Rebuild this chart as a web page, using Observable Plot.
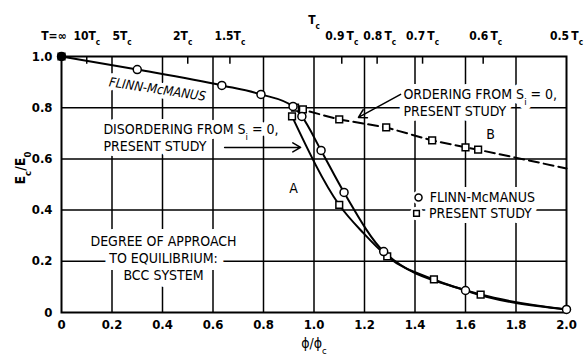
<!DOCTYPE html>
<html><head><meta charset="utf-8">
<script src="https://cdn.jsdelivr.net/npm/d3@7"></script>
<script src="https://cdn.jsdelivr.net/npm/@observablehq/plot@0.6"></script>
<style>
body{margin:0;background:#fff;}
svg{font-family:"DejaVu Sans Condensed",sans-serif;}
</style></head>
<body><div id="chart"></div>
<script>
// Flinn-McManus data (circles) and curve
const fmX = [0, 0.30, 0.635, 0.79, 0.917, 0.952, 1.028, 1.119, 1.276, 1.60, 2.0];
const fmY = [1.0, 0.949, 0.887, 0.852, 0.805, 0.766, 0.633, 0.469, 0.238, 0.086, 0.012];
// Present study markers (squares)
const psX = [0, 0.925, 0.956, 0.913, 1.10, 1.286, 1.468, 1.60, 1.65, 1.10, 1.29, 1.475, 1.66];
const psY = [1.0, 0.80, 0.793, 0.766, 0.754, 0.723, 0.672, 0.645, 0.636, 0.42, 0.219, 0.129, 0.07];
// Present study: disordering curve (solid)
const disX = [0.913, 1.10, 1.196, 1.29, 1.475, 1.66, 2.0];
const disY = [0.766, 0.42, 0.31, 0.219, 0.129, 0.07, 0.012];
// Present study: ordering curve (dashed)
const ordX = [0.925, 1.10, 1.286, 1.468, 1.60, 1.65, 2.0];
const ordY = [0.80, 0.754, 0.723, 0.672, 0.645, 0.636, 0.5625];
// Axes
const xTicks = [0, 0.2, 0.4, 0.6, 0.8, 1.0, 1.2, 1.4, 1.6, 1.8, 2.0];
const yTicks = [0, 0.2, 0.4, 0.6, 0.8, 1.0];
const xGrid = [0.2, 0.4, 0.6, 0.8, 1.0, 1.2, 1.4, 1.6, 1.8];
const yGrid = [0.2, 0.4, 0.6, 0.8];
// Top temperature scale
const topTicks = [0.1, 0.5, 0.667, 1.11, 1.25, 1.43, 1.67];
const topLabels = ["T=∞", "10T_c", "5T_c", "2T_c", "1.5T_c", "T_c", "0.9\u2009T_c", "0.8\u2009T_c", "0.7\u2009T_c", "0.6\u2009T_c", "0.5\u2009T_c"];
const topLabelX = [-0.03, 0.1, 0.24, 0.48, 0.667, 1.0, 1.11, 1.26, 1.43, 1.68, 2.0];

const fmData = fmX.map((x, i) => ({x, y: fmY[i]}));
const psData = psX.map((x, i) => ({x, y: psY[i]}));
const disData = disX.map((x, i) => ({x, y: disY[i]}));
const ordData = ordX.map((x, i) => ({x, y: ordY[i]}));
const topData = topLabels.map((t, i) => ({t, x: topLabelX[i]}));

const FS = 13;   // tick labels
const AS = 14;   // annotations

// text with a white knock-out behind it (two layers so subscripts are not covered)
function haloText(data, opts, w = 8) {
  return [
    Plot.text(data, {...opts, fill: "white", stroke: "white", strokeWidth: w}),
    Plot.text(data, {...opts, fill: "black"})
  ];
}

const chart = Plot.plot({
  width: 586, height: 354,
  marginLeft: 61, marginRight: 20, marginTop: 56, marginBottom: 42,
  x: {domain: [0, 2], label: null},
  y: {domain: [0, 1], label: null},
  style: {fontSize: FS + "px", background: "white", color: "black"},
  marks: [
    Plot.ruleX(xGrid, {stroke: "black", strokeWidth: 1.5}),
    Plot.ruleY(yGrid, {stroke: "black", strokeWidth: 1.5}),
    Plot.ruleX(topTicks, {y1: 1.0, y2: 0.97, stroke: "black", strokeWidth: 1.5}),
    Plot.frame({stroke: "black", strokeWidth: 2}),
    Plot.axisX({ticks: xTicks, tickSize: 0, tickPadding: 7, tickFormat: d => d === 0 ? "0" : d.toFixed(1), fontSize: FS, fontWeight: "bold"}),
    Plot.axisY({ticks: yTicks, tickSize: 0, tickPadding: 9, tickFormat: d => d === 0 ? "0" : d.toFixed(1), fontSize: FS, fontWeight: "bold"}),
    Plot.text(topData, {filter: d => d.t !== "T_c", x: "x", y: 1, dy: -20, text: "t", fontSize: 12, fontWeight: "bold"}),
    Plot.text(topData, {filter: d => d.t === "T_c", x: "x", y: 1, dy: -36, text: "t", fontSize: 12, fontWeight: "bold"}),
    Plot.text(["E_c/E_0"], {frameAnchor: "left", dx: -41, rotate: -90, fontSize: FS + 1, fontWeight: "bold"}),
    Plot.text(["ϕ/ϕ_c"], {frameAnchor: "bottom", dy: 35, fontSize: FS + 1}),
    // annotations
    ...haloText(["FLINN-McMANUS"], {x: 0.38, y: 0.871, rotate: 8.6, fontStyle: "italic", fontSize: 13}),
    ...haloText(["DISORDERING FROM S_i = 0,\nPRESENT STUDY"], {x: 0.166, y: 0.684, textAnchor: "start", lineHeight: 1.2, fontSize: AS}, 10),
    ...haloText(["ORDERING FROM S_i = 0,\nPRESENT STUDY"], {x: 1.354, y: 0.822, textAnchor: "start", lineHeight: 1.2, fontSize: AS}, 10),
    ...haloText(["DEGREE OF APPROACH\nTO EQUILIBRIUM:\nBCC SYSTEM"], {x: 0.404, y: 0.215, lineHeight: 1.2, fontSize: AS}, 14),
    ...haloText(["A"], {x: 0.919, y: 0.484, fontSize: AS}),
    ...haloText(["B"], {x: 1.699, y: 0.695, fontSize: AS}),
    Plot.arrow([0], {x1: 0.646, y1: 0.645, x2: 0.947, y2: 0.645, stroke: "black", strokeWidth: 1.5, headLength: 9}),
    Plot.arrow([0], {x1: 1.343, y1: 0.852, x2: 1.176, y2: 0.762, stroke: "black", strokeWidth: 1.5, headLength: 9}),
    // legend
    ...haloText(["FLINN-McMANUS"], {x: 1.458, y: 0.449, textAnchor: "start", fontSize: AS}, 10),
    ...haloText(["PRESENT STUDY"], {x: 1.455, y: 0.387, textAnchor: "start", fontSize: AS}, 10),
    Plot.dot([0], {x: 1.414, y: 0.449, r: 6, fill: "white", stroke: "white"}),
    Plot.dot([0], {x: 1.406, y: 0.387, r: 6, fill: "white", stroke: "white"}),
    Plot.dot([0], {x: 1.414, y: 0.449, r: 3.5, fill: "white", stroke: "black", strokeWidth: 1.5}),
    Plot.dot([0], {x: 1.406, y: 0.387, r: 3.2, symbol: "square", fill: "white", stroke: "black", strokeWidth: 1.5}),
    // curves
    Plot.line(fmData, {x: "x", y: "y", curve: "monotone-x", stroke: "black", strokeWidth: 2}),
    Plot.line(disData, {x: "x", y: "y", curve: "monotone-x", stroke: "black", strokeWidth: 2}),
    Plot.line(ordData, {x: "x", y: "y", stroke: "black", strokeWidth: 2, strokeDasharray: "10,5"}),
    // markers
    Plot.dot(psData, {x: "x", y: "y", r: 3.8, symbol: "square", fill: d => d.x === 0 ? "black" : "white", stroke: "black", strokeWidth: 1.5}),
    Plot.dot(fmData, {x: "x", y: "y", r: 4, fill: d => d.x === 0 ? "black" : "white", stroke: "black", strokeWidth: 1.5})
  ]
});

// subscripts: "X_c" -> X with subscript c
function applySubs(svg) {
  const walker = document.createTreeWalker(svg, NodeFilter.SHOW_TEXT);
  const nodes = [];
  while (walker.nextNode()) if (walker.currentNode.data.includes("_")) nodes.push(walker.currentNode);
  for (const n of nodes) {
    const parts = n.data.split(/_(\w)/);
    const frag = document.createDocumentFragment();
    parts.forEach((p, i) => {
      if (!p) return;
      if (i % 2 === 0) frag.appendChild(document.createTextNode(p));
      else {
        const t = document.createElementNS("http://www.w3.org/2000/svg", "tspan");
        t.setAttribute("baseline-shift", "sub");
        t.setAttribute("font-size", "68%");
        t.textContent = p;
        frag.appendChild(t);
      }
    });
    n.parentNode.replaceChild(frag, n);
  }
}
applySubs(chart);
document.getElementById("chart").appendChild(chart);
</script></body></html>
